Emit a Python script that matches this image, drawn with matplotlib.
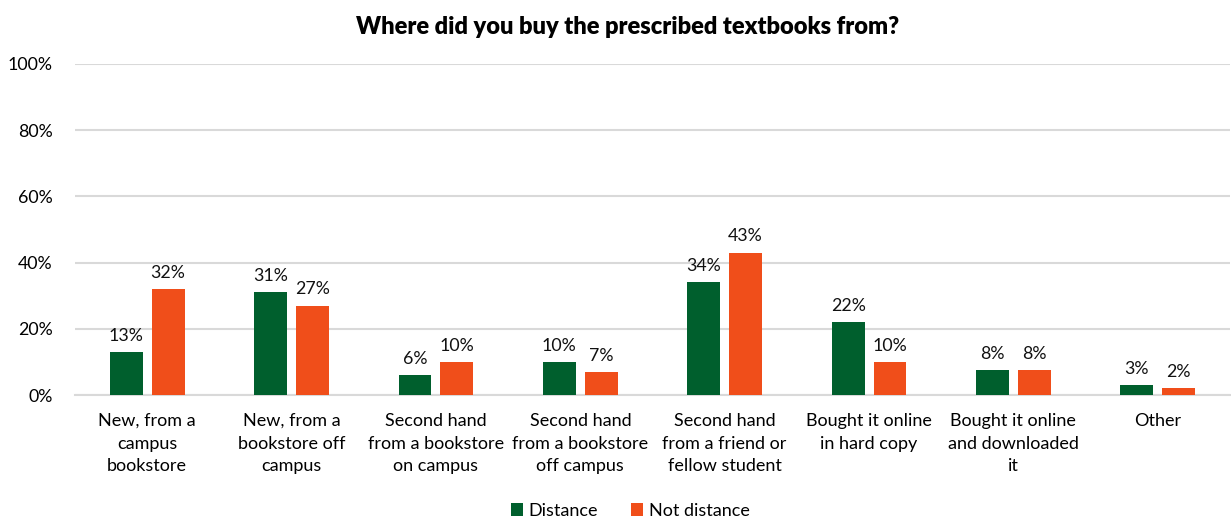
import numpy as np
import matplotlib.pyplot as plt

plt.rcParams['font.family'] = ['Lato', 'DejaVu Sans']

categories = ["New, from a\ncampus\nbookstore",
              "New, from a\nbookstore off\ncampus",
              "Second hand\nfrom a bookstore\non campus",
              "Second hand\nfrom a bookstore\noff campus",
              "Second hand\nfrom a friend or\nfellow student",
              "Bought it online\nin hard copy",
              "Bought it online\nand downloaded\nit",
              "Other"]
distance = [13, 31, 6, 10, 34, 22, 7.6, 3]
not_distance = [32, 27, 10, 7, 43, 10, 7.6, 2]
yticks = [0, 20, 40, 60, 80, 100]

green = '#005F2D'
orange = '#F04E1A'

fig = plt.figure(figsize=(12.31, 5.2), dpi=100)
ax = fig.add_axes([75/1231, 1-395/520, 1-76/1231, (395-64)/520])

x = np.arange(len(categories))
w = 0.228
off = 0.145
b1 = ax.bar(x - off, distance, w, color=green, label='Distance', zorder=3)
b2 = ax.bar(x + off, not_distance, w, color=orange, label='Not distance', zorder=3)

for bars, vals in ((b1, distance), (b2, not_distance)):
    for b, v in zip(bars, vals):
        ax.text(b.get_x() + b.get_width()/2, v + 2.5, f"{round(v)}%",
                ha='center', va='bottom', fontsize=12.8, color='#111111')

ax.set_xlim(-0.5, len(categories) - 0.5)
ax.set_ylim(0, 100)
ax.set_yticks(yticks)
ax.set_yticklabels([f"{t}%" for t in yticks], fontsize=12.8)
ax.set_xticks(x)
ax.set_xticklabels(categories, fontsize=13, linespacing=1.5)
ax.tick_params(length=0, pad=13)
ax.tick_params(axis='y', pad=16)
ax.grid(axis='y', color='#D9D9D9', linewidth=1.5, zorder=0)
for s in ['top', 'right', 'left']:
    ax.spines[s].set_visible(False)
ax.spines['bottom'].set_color('#D9D9D9')
ax.spines['bottom'].set_linewidth(1.5)

fig.suptitle("Where did you buy the prescribed textbooks from?", x=0.51, y=0.97,
             fontsize=17, fontweight='heavy')
fig.legend(loc='center', bbox_to_anchor=(630/1231, 1-511/520), ncol=2, frameon=False,
           fontsize=13, handlelength=0.7, handleheight=0.7, handletextpad=0.3,
           columnspacing=1.8)

fig.savefig('out.png', dpi=100)
